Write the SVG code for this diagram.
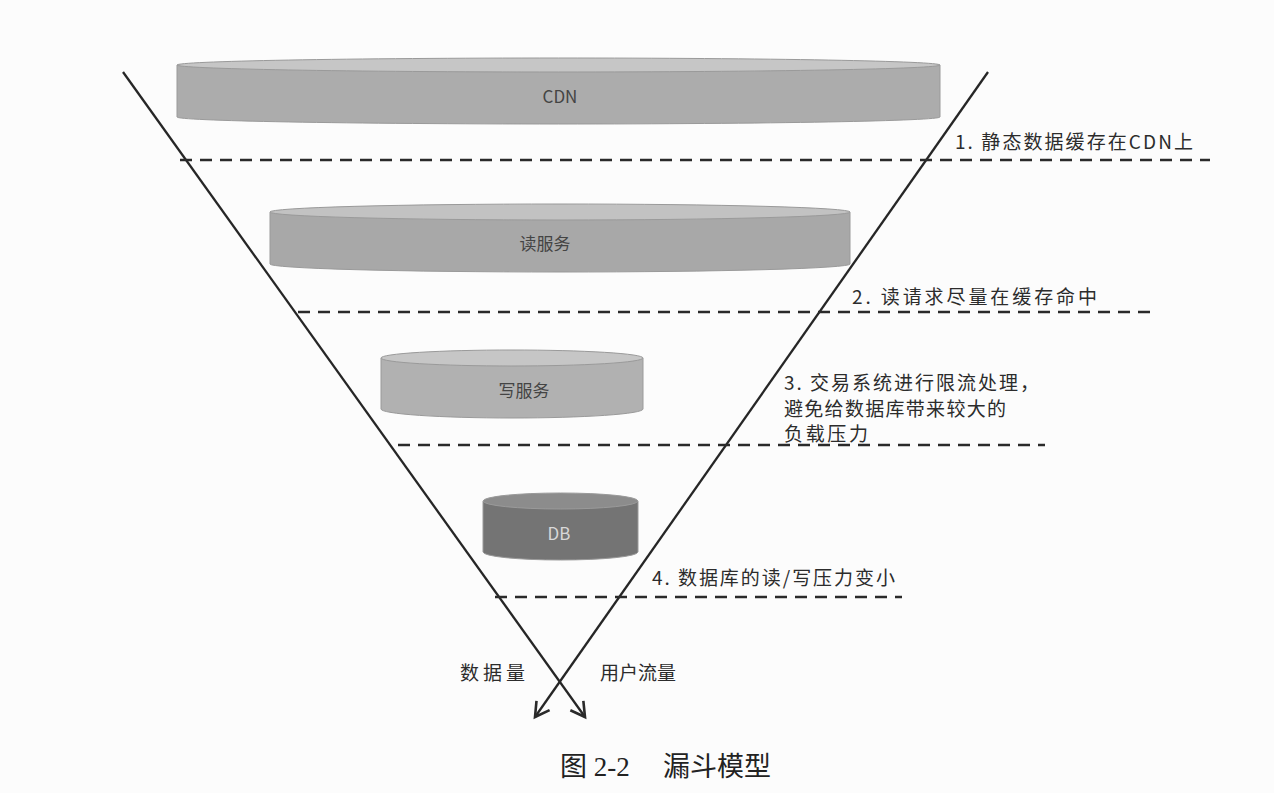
<svg xmlns="http://www.w3.org/2000/svg" width="1274" height="793" viewBox="0 0 1274 793">
<defs>
<marker id="arr" viewBox="0 0 20 20" refX="16" refY="10" markerWidth="20" markerHeight="20" markerUnits="userSpaceOnUse" orient="auto">
<path d="M2,2 L16,10 L2,18" fill="none" stroke="#2a2a2a" stroke-width="2.6"/>
</marker>
</defs>
<style>
.dash{stroke:#2a2a2a;stroke-width:2.6;stroke-dasharray:12 8;fill:none}
.fun{stroke:#262626;stroke-width:2.3;fill:none}
.lbl{font-family:"Noto Sans CJK SC","Noto Sans",sans-serif;font-size:19px;fill:#2c2c2c}
.cyl{font-family:"Noto Sans CJK SC","Noto Sans",sans-serif;font-size:17px;fill:#444;text-anchor:middle}
.edge{stroke:#9a9a9a;stroke-width:1}
</style>
<rect width="1274" height="793" fill="#fcfcfc"/>

<g id="cdn">
<path d="M177,65 L177,117 A381.5,7 0 0 0 940,117 L940,65 Z" fill="#acacac" class="edge"/>
<ellipse cx="558.5" cy="65" rx="381.5" ry="7" fill="#c6c6c6" class="edge"/>
<text x="560" y="103" class="cyl">CDN</text>
</g>

<g id="read">
<path d="M270,212 L270,264 A290,8 0 0 0 850,264 L850,212 Z" fill="#a8a8a8" class="edge"/>
<ellipse cx="560" cy="212" rx="290" ry="8" fill="#c2c2c2" class="edge"/>
<text x="545" y="250" class="cyl">读服务</text>
</g>

<g id="write">
<path d="M381,358 L381,409 A131,9 0 0 0 643,409 L643,358 Z" fill="#b1b1b1" class="edge"/>
<ellipse cx="512" cy="358" rx="131" ry="8" fill="#c6c6c6" class="edge"/>
<text x="524" y="397" class="cyl">写服务</text>
</g>

<g id="db">
<path d="M483,501 L483,552 A77.5,8 0 0 0 638,552 L638,501 Z" fill="#747474" class="edge"/>
<ellipse cx="560.5" cy="501" rx="77.5" ry="8" fill="#8c8c8c" class="edge"/>
<text x="559" y="540" class="cyl" style="fill:#d8d8d8">DB</text>
</g>

<g id="connectors">
<line class="fun" x1="123" y1="72" x2="585" y2="717" marker-end="url(#arr)"/>
<line class="fun" x1="988" y1="72" x2="535" y2="717" marker-end="url(#arr)"/>
<line class="dash" x1="180" y1="160" x2="1210" y2="160"/>
<line class="dash" x1="298" y1="312" x2="1155" y2="312"/>
<line class="dash" x1="398" y1="445" x2="1045" y2="445"/>
<line class="dash" x1="495" y1="597" x2="902" y2="597"/>
</g>

<g id="labels">
<text x="955" y="149" class="lbl" textLength="238" lengthAdjust="spacing">1. 静态数据缓存在CDN上</text>
<text x="852" y="304" class="lbl" textLength="245" lengthAdjust="spacing">2. 读请求尽量在缓存命中</text>
<text x="784" y="390" class="lbl" textLength="255" lengthAdjust="spacing">3. 交易系统进行限流处理，</text>
<text x="784" y="416" class="lbl" textLength="222" lengthAdjust="spacing">避免给数据库带来较大的</text>
<text x="784" y="441" class="lbl" textLength="84" lengthAdjust="spacing">负载压力</text>
<text x="652" y="585" class="lbl" textLength="243" lengthAdjust="spacing">4. 数据库的读/写压力变小</text>
<text x="460" y="680" class="lbl" textLength="65" lengthAdjust="spacing">数据量</text>
<text x="600" y="680" class="lbl" textLength="76" lengthAdjust="spacing">用户流量</text>
<text x="560" y="776" style="font-family:'Liberation Serif','Noto Sans CJK SC',serif;font-size:27px;fill:#222">图 2-2<tspan x="663">漏斗模型</tspan></text>
</g>
</svg>
